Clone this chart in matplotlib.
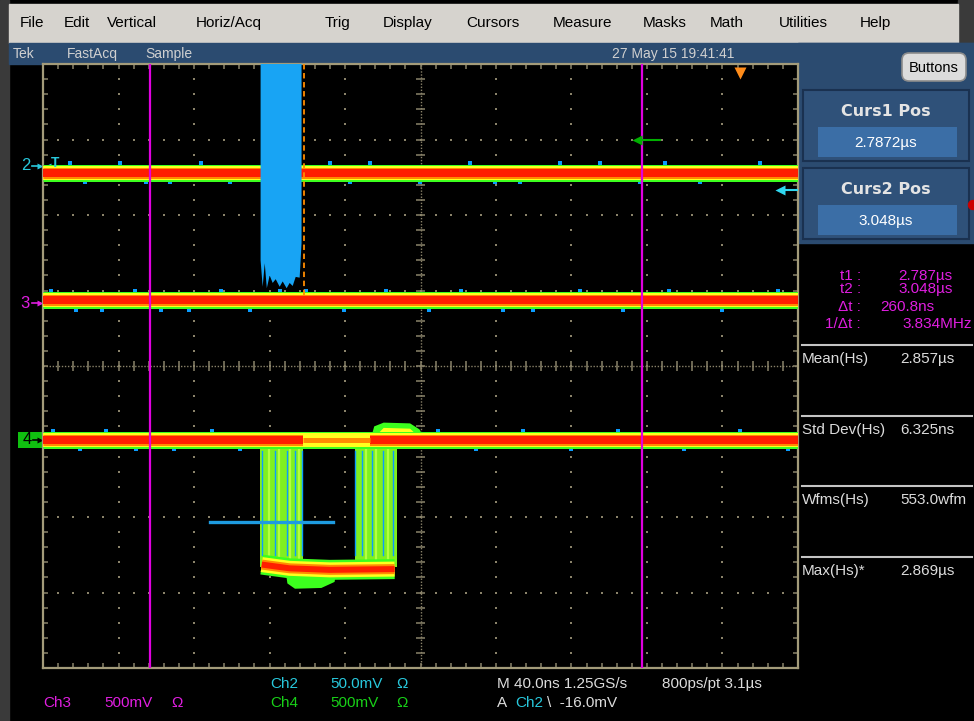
import matplotlib.pyplot as plt
import matplotlib.transforms as mtransforms
from matplotlib.patches import Rectangle, FancyBboxPatch, Polygon
from matplotlib.collections import LineCollection

plt.rcParams['font.family'] = ['Liberation Sans', 'DejaVu Sans']

# timebase, cursors and histogram readouts (us)
t_div = 0.040
t1, t2 = 2.7872, 3.048
t_left = t1 - 1.417 * t_div
t_right = t_left + 10 * t_div
h_pos = 3.1
hist_mean, hist_std, hist_max = 2.857, 0.006325, 2.869
hist_wfms = 553.0

# trigger
trig_mv, ch2_mv_div = -16.0, 50.0

# channel ground markers and trace levels (divisions)
ch2_gnd, ch3_gnd, ch4_gnd = 2.65, 0.83, -0.98
ch2_level, ch3_level, ch4_level = 2.56, 0.87, -0.98

# ch2 glitch burst outline
burst_t = [2.8458, 2.8458, 2.8469, 2.8480, 2.8491, 2.8506, 2.8522, 2.8538, 2.8559,
           2.8575, 2.8596, 2.8612, 2.8628, 2.8644, 2.8665, 2.8675, 2.8675]
burst_y = [4.0, 1.40, 1.05, 1.36, 1.03, 1.20, 1.10, 1.15, 1.05,
           1.12, 1.03, 1.10, 1.06, 1.18, 1.17, 1.63, 4.0]

# ch4 pulse
fall_t = (2.8453, 2.8681)
rise_t = (2.8956, 2.9179)
low_t = [2.8464, 2.8612, 2.8824, 2.9168]
low_y = [-2.63, -2.68, -2.70, -2.69]
blob_t = [2.8590, 2.8600, 2.8640, 2.8780, 2.8850, 2.8860]
blob_y = [-2.70, -2.88, -2.95, -2.94, -2.86, -2.70]
bump_t = [2.9040, 2.9060, 2.9110, 2.9250, 2.9300, 2.9330]
bump_y = [-0.98, -0.80, -0.75, -0.76, -0.84, -0.98]
fall_blue_t = [2.8464, 2.8533, 2.8596, 2.8639, 2.8678]
fall_yellow_t = [2.8501, 2.8554, 2.8612, 2.8660]
rise_blue_t = [2.8958, 2.8993, 2.9046, 2.9104, 2.9157]
rise_yellow_t = [2.9019, 2.9072, 2.9131]
hist_box_t = [2.8188, 2.8840]
hist_box_y = -2.07

# stray samples outside the bands (blue), +1 above / -1 below
ch2_speck_t = [2.7446, 2.7530, 2.7711, 2.7850, 2.7976, 2.8140, 2.8294, 2.8824, 2.8930,
               2.9036, 2.9301, 2.9566, 2.9700, 2.9831, 3.0043, 3.0255, 3.0467, 3.0600,
               3.0785, 3.1103]
ch2_speck_s = [1, -1, 1, -1, -1, 1, -1, 1, -1, 1, -1, 1, -1, -1, 1, 1, -1, 1, -1, 1]
ch3_speck_t = [2.7350, 2.7480, 2.7620, 2.7790, 2.7930, 2.8080, 2.8250, 2.8400, 2.8560,
               2.8700, 2.8900, 2.9120, 2.9350, 2.9520, 2.9740, 2.9900, 3.0150, 3.0380,
               3.0620, 3.0900, 3.1200]
ch3_speck_s = [1, -1, -1, 1, -1, -1, 1, -1, 1, 1, -1, 1, -1, 1, -1, -1, 1, -1, 1, -1, 1]
ch4_speck_t = [2.7360, 2.7500, 2.7640, 2.7800, 2.8000, 2.8200, 2.8350, 2.9400, 2.9600,
               2.9850, 3.0100, 3.0350, 3.0700, 3.1000, 3.1250]
ch4_speck_s = [1, -1, 1, -1, -1, 1, -1, 1, -1, 1, -1, 1, -1, 1, -1]

green_mark_t, green_mark_y = (3.0450, 3.0572), 3.0

menu_items = ['File', 'Edit', 'Vertical', 'Horiz/Acq', 'Trig', 'Display', 'Cursors',
              'Measure', 'Masks', 'Math', 'Utilities', 'Help']
menu_x = [20, 64, 107, 196, 325, 383, 466, 553, 643, 710, 779, 860]

BLUE, GREEN, LIME = '#0a9cff', '#3cff1e', '#80f020'
YELLOW, ORANGE, RED = '#ffff1e', '#ff8c00', '#ff1e00'
GRID = '#8a836a'
CYAN_T, MAG_T, GRN_T, TXT = '#28c8dc', '#e01ee0', '#18d018', '#dcdcdc'
BAND = [(17, GREEN), (14, YELLOW), (11, ORANGE), (8, RED)]


def band(ax, t, y, layers, z=3):
    for w, c in layers:
        ax.plot(t, y, color=c, lw=w * 0.72, solid_capstyle='butt', zorder=z)


def specks(ax, t, side, level):
    ax.scatter(t, [level + 0.125 * s for s in side], marker='s', s=6,
               color=BLUE, linewidths=0, zorder=2)


fig = plt.figure(figsize=(9.74, 7.21), dpi=100, facecolor='black')
W, H = 974, 721

# screen chrome in pixel coordinates
bg = fig.add_axes([0, 0, 1, 1])
bg.set_xlim(0, W)
bg.set_ylim(H, 0)
bg.axis('off')
bg.set_zorder(0)
bg.add_patch(Rectangle((0, 0), W, H, color='black'))
bg.add_patch(Rectangle((0, 0), 9, H, color='#3a3a3a'))
bg.add_patch(Rectangle((958, 0), 16, 43, color='#3a3a3a'))
bg.add_patch(Rectangle((9, 4), 949, 39, color='#d6d3ce'))
for s, x in zip(menu_items, menu_x):
    bg.text(x, 23, s, fontsize=11, color='black', va='center', ha='left')

bg.add_patch(Rectangle((9, 43), W - 9, 21, color='#2b4b70'))
bg.add_patch(Rectangle((798, 43), W - 798, 200, color='#2b4b70'))
for s, x in [('Tek', 13), ('FastAcq', 67), ('Sample', 145), ('27 May 15 19:41:41', 612)]:
    bg.text(x, 54, s, fontsize=10, color='#d0d0d0', va='center', ha='left')

bg.add_patch(FancyBboxPatch((902, 53), 64, 28, boxstyle='round,pad=0,rounding_size=7',
                            fc='#dcdcdc', ec='#8c8c8c', lw=1.2))
bg.text(934, 68, 'Buttons', fontsize=10.5, color='black', va='center', ha='center')

for (y0, title, val) in [(90, 'Curs1 Pos', f'{t1:.4f}µs'), (168, 'Curs2 Pos', f'{t2:.3f}µs')]:
    bg.add_patch(Rectangle((803, y0), 166, 71, fc='#2f5179', ec='#1a3150', lw=1.5))
    bg.add_patch(Rectangle((818, y0 + 37), 139, 30, fc='#3b6ea6', ec='none'))
    bg.text(886, y0 + 21, title, fontsize=11.5, fontweight='bold', family='DejaVu Sans',
            color='#e4e4e4', va='center', ha='center')
    bg.text(886, y0 + 53, val, fontsize=11, color='white', va='center', ha='center')
bg.add_patch(plt.Circle((973, 205), 4.5, color='#cc0000'))

dt = t2 - t1
for y, lab, val, x in [(276, 't1 :', f'{t1:.3f}µs', 898),
                       (289, 't2 :', f'{t2:.3f}µs', 898),
                       (307, 'Δt :', f'{dt * 1000:.1f}ns', 880),
                       (324, '1/Δt :', f'{1 / dt:.3f}MHz', 902)]:
    bg.text(861, y, lab, fontsize=11, color=MAG_T, va='center', ha='right')
    bg.text(x, y, val, fontsize=11, color=MAG_T, va='center', ha='left')

for y, lab, val in [(345, 'Mean(Hs)', f'{hist_mean:.3f}µs'),
                    (416, 'Std Dev(Hs)', f'{hist_std * 1000:.3f}ns'),
                    (486, 'Wfms(Hs)', f'{hist_wfms:.1f}wfm'),
                    (557, 'Max(Hs)*', f'{hist_max:.3f}µs')]:
    bg.plot([802, 972], [y, y], color='#c4c4c4', lw=1.5)
    bg.text(802, y + 14, lab, fontsize=11, color=TXT, va='center', ha='left')
    bg.text(900, y + 14, val, fontsize=11, color=TXT, va='center', ha='left')

# bottom readouts
bg.text(270, 684, 'Ch2', fontsize=11, color=CYAN_T, va='center')
bg.text(330, 684, f'{ch2_mv_div:.1f}mV', fontsize=11, color=CYAN_T, va='center')
bg.text(396, 684, 'Ω', fontsize=11, color=CYAN_T, va='center')
bg.text(270, 703, 'Ch4', fontsize=11, color=GRN_T, va='center')
bg.text(330, 703, '500mV', fontsize=11, color=GRN_T, va='center')
bg.text(396, 703, 'Ω', fontsize=11, color=GRN_T, va='center')
bg.text(43, 703, 'Ch3', fontsize=11, color=MAG_T, va='center')
bg.text(104, 703, '500mV', fontsize=11, color=MAG_T, va='center')
bg.text(171, 703, 'Ω', fontsize=11, color=MAG_T, va='center')
bg.text(497, 684, f'M {t_div * 1000:.1f}ns 1.25GS/s', fontsize=11, color=TXT, va='center')
bg.text(662, 684, f'800ps/pt {h_pos:.1f}µs', fontsize=11, color=TXT, va='center')
bg.text(497, 703, 'A', fontsize=11, color=TXT, va='center')
bg.text(515, 703, 'Ch2', fontsize=11, color=CYAN_T, va='center')
bg.text(547, 703, f'\\  {trig_mv:.1f}mV', fontsize=11, color=TXT, va='center')

# graticule: 10 x 8 divisions
ax = fig.add_axes([43 / W, 53 / H, 755 / W, 604 / H])
ax.set_zorder(1)
ax.set_facecolor('black')
ax.set_xlim(t_left, t_right)
ax.set_ylim(-4, 4)
ax.set_xticks([])
ax.set_yticks([])
for sp in ax.spines.values():
    sp.set_color('#a39b7a')
    sp.set_linewidth(1.6)

minor_x = [t_left + k * t_div / 5 for k in range(51)]
minor_y = [-4 + k * 0.2 for k in range(41)]
xc = t_left + 5 * t_div
gx, gy = [], []
for k in range(1, 10):
    if k != 5:
        gx += [t_left + k * t_div] * 39
        gy += minor_y[1:-1]
for j in range(-3, 4):
    if j != 0:
        gx += minor_x[1:-1]
        gy += [j] * 49
ax.scatter(gx, gy, marker='s', s=1.8, color=GRID, linewidths=0, zorder=1)
ax.plot([t_left, t_right], [0, 0], color=GRID, lw=1, ls=(0, (1, 1.2)), zorder=1)
ax.plot([xc, xc], [-4, 4], color=GRID, lw=1, ls=(0, (1, 1.2)), zorder=1)
segs = [[(x, -0.06), (x, 0.06)] for x in minor_x]
segs += [[(xc - 0.06 * t_div, y), (xc + 0.06 * t_div, y)] for y in minor_y]
segs += [[(x, -4), (x, -3.93)] for x in minor_x] + [[(x, 4), (x, 3.93)] for x in minor_x]
segs += [[(t_left, y), (t_left + 0.07 * t_div, y)] for y in minor_y]
segs += [[(t_right, y), (t_right - 0.07 * t_div, y)] for y in minor_y]
ax.add_collection(LineCollection(segs, colors=GRID, linewidths=1.1, zorder=1))

# ch2 and ch3 persistence bands
specks(ax, ch2_speck_t, ch2_speck_s, ch2_level)
specks(ax, ch3_speck_t, ch3_speck_s, ch3_level)
specks(ax, ch4_speck_t, ch4_speck_s, ch4_level)
band(ax, [t_left, t_right], [ch2_level] * 2, BAND)
band(ax, [t_left, t_right], [ch3_level] * 2, BAND)

# ch2 glitch burst and histogram max marker
ax.add_patch(Polygon(list(zip(burst_t, burst_y)), closed=True, fc='#18a4f4', ec='none', zorder=4))
ax.plot([hist_max, hist_max], [4, 0.9], color='#ff8c00', lw=1.3, ls=(0, (3, 2)), zorder=5)

# ch4 pulse: edges, low level, ringing bump, baseline
for (a, b), blues, yels in [(fall_t, fall_blue_t, fall_yellow_t), (rise_t, rise_blue_t, rise_yellow_t)]:
    ax.add_patch(Polygon([(a, ch4_level), (b, ch4_level), (b, -2.66), (a, -2.66)],
                         closed=True, fc=LIME, ec='none', zorder=2))
    for t in yels:
        ax.plot([t, t], [ch4_level, -2.6], color='#b4ff40', lw=1.6, zorder=2)
    for t in blues:
        ax.plot([t, t], [ch4_level - 0.15, -2.5], color=BLUE, lw=1.0, zorder=2)
ax.add_patch(Polygon(list(zip(blob_t, blob_y)), closed=True, fc=GREEN, ec='none', zorder=2))
band(ax, low_t, low_y, [(20, GREEN), (15, YELLOW), (10, ORANGE), (6, RED)])
ax.add_patch(Polygon(list(zip(bump_t, bump_y)), closed=True, fc=GREEN, ec='none', zorder=2))
ax.add_patch(Polygon([(bump_t[1], -0.95), (bump_t[2], -0.82), (bump_t[3], -0.83), (bump_t[4], -0.95)],
                     closed=True, fc=YELLOW, ec='none', zorder=2))
band(ax, [t_left, t_right], [ch4_level] * 2, BAND)
band(ax, [fall_t[1], bump_t[0]], [ch4_level] * 2, [(12, YELLOW), (5, ORANGE)])
ax.plot(hist_box_t, [hist_box_y] * 2, color='#1e9be0', lw=2.4, zorder=6)

# cursors and markers
ax.axvline(t1, color='#e000e0', lw=1.6, zorder=7)
ax.axvline(t2, color='#e000e0', lw=1.6, zorder=7)
ax.plot([h_pos], [3.88], marker='v', ms=9, color='#ff8c1a', mec='none', zorder=8)
ax.plot(green_mark_t, [green_mark_y] * 2, color='#00b000', lw=1.5, zorder=8)
ax.plot([green_mark_t[0]], [green_mark_y], marker='<', ms=7, color='#00b000', mec='none', zorder=8)
trig_y = ch2_gnd + trig_mv / ch2_mv_div
trig_x = t_right - 0.24 * t_div
ax.plot([trig_x, t_right], [trig_y] * 2, color='#30d8f0', lw=1.5, zorder=8)
ax.plot([trig_x], [trig_y], marker='<', ms=7, color='#30d8f0', mec='none', zorder=8)

# channel ground markers left of the graticule
tr = mtransforms.blended_transform_factory(bg.transData, ax.transData)
for lvl, lab, col in [(ch2_gnd, '2', CYAN_T), (ch3_gnd, '3', MAG_T)]:
    ax.text(30, lvl, lab, transform=tr, fontsize=12, color=col, ha='right', va='center', clip_on=False)
    ax.plot([32, 40], [lvl, lvl], transform=tr, color=col, lw=1.2, clip_on=False)
    ax.plot([40], [lvl], transform=tr, marker='>', ms=4, color=col, mec='none', clip_on=False)
ax.add_patch(Rectangle((18, ch4_gnd - 0.1), 25, 0.2, transform=tr, fc='#10c010', ec='none', clip_on=False))
ax.text(27, ch4_gnd, '4', transform=tr, fontsize=12, color='black', ha='center', va='center', clip_on=False)
ax.plot([33, 40], [ch4_gnd] * 2, transform=tr, color='black', lw=1.2, clip_on=False)
ax.plot([40], [ch4_gnd], transform=tr, marker='>', ms=4, color='black', mec='none', clip_on=False)
ax.text(55, ch2_gnd + 0.04, 'T', transform=tr, fontsize=10, fontweight='bold', color=CYAN_T,
        ha='center', va='center', clip_on=False)
ax.plot([48], [ch2_gnd], transform=tr, marker='<', ms=4, color=CYAN_T, mec='none', clip_on=False)

fig.savefig('out.png', dpi=100, facecolor='black')
